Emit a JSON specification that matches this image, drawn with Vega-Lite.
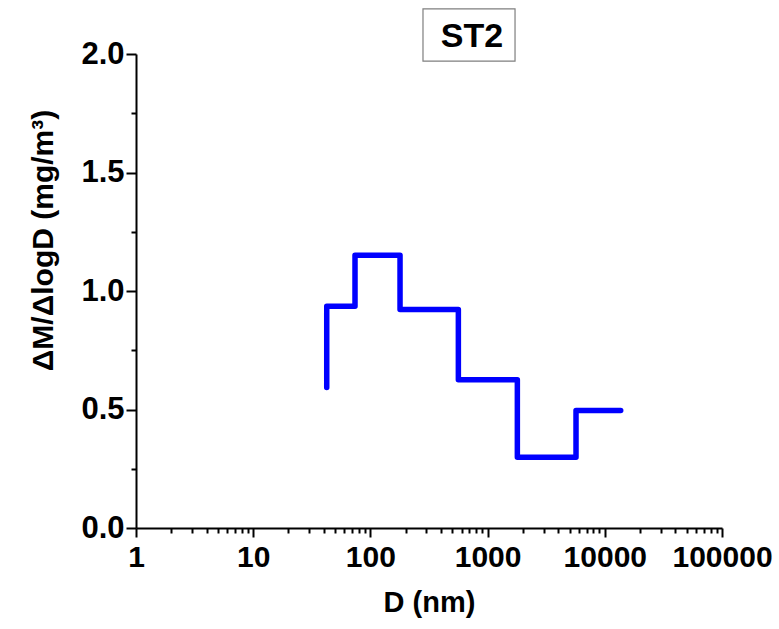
{
  "$schema": "https://vega.github.io/schema/vega-lite/v6.json",
  "width": 586,
  "height": 474,
  "autosize": "none",
  "padding": {"left": 136, "top": 54, "right": 57, "bottom": 101},
  "background": "white",
  "config": {
    "view": {"stroke": null},
    "axis": {
      "domainColor": "black", "domainWidth": 2, "tickColor": "black", "tickWidth": 2,
      "labelFont": "Liberation Sans", "labelFontWeight": "bold", "labelColor": "black",
      "titleFont": "Liberation Sans", "titleFontWeight": "bold", "titleColor": "black",
      "grid": false
    }
  },
  "datasets": {
    "dist": [
      {"i": 1, "D": 42.4, "M": 0.593},
      {"i": 2, "D": 42.4, "M": 0.936},
      {"i": 3, "D": 73.9, "M": 0.936},
      {"i": 4, "D": 73.9, "M": 1.151},
      {"i": 5, "D": 179, "M": 1.151},
      {"i": 6, "D": 179, "M": 0.922},
      {"i": 7, "D": 563, "M": 0.922},
      {"i": 8, "D": 563, "M": 0.626},
      {"i": 9, "D": 1794, "M": 0.626},
      {"i": 10, "D": 1794, "M": 0.299},
      {"i": 11, "D": 5680, "M": 0.299},
      {"i": 12, "D": 5680, "M": 0.496},
      {"i": 13, "D": 13670, "M": 0.496}
    ]
  },
  "data": {"name": "dist"},
  "layer": [
    {
      "mark": {"type": "line", "color": "#0000FF", "strokeWidth": 5.5, "strokeCap": "round", "strokeJoin": "round", "clip": false},
      "encoding": {
        "x": {"field": "D", "type": "quantitative",
          "scale": {"type": "log", "domain": [1, 100000], "nice": false},
          "axis": {"orient": "bottom", "values": [1, 10, 100, 1000, 10000, 100000], "format": "d",
            "title": "D (nm)", "labelFontSize": 30, "tickSize": 9, "labelPadding": 5,
            "titleFontSize": 29, "titlePadding": 16, "labelFlush": false, "labelOverlap": false}},
        "y": {"field": "M", "type": "quantitative",
          "scale": {"domain": [0, 2], "nice": false},
          "axis": {"orient": "left", "values": [0, 0.5, 1, 1.5, 2], "format": ".1f",
            "title": "ΔM/ΔlogD (mg/m³)", "labelFontSize": 31, "tickSize": 10, "labelPadding": 2,
            "titleFontSize": 30, "titlePadding": 22, "titleY": 186, "labelFlush": false}},
        "order": {"field": "i", "type": "quantitative"}
      }
    },
    {
      "mark": {"type": "line", "opacity": 0},
      "encoding": {
        "x": {"field": "D", "type": "quantitative",
          "scale": {"type": "log", "domain": [1, 100000], "nice": false},
          "axis": {"orient": "bottom", "values": [2,3,4,5,6,7,8,9,20,30,40,50,60,70,80,90,200,300,400,500,600,700,800,900,2000,3000,4000,5000,6000,7000,8000,9000,20000,30000,40000,50000,60000,70000,80000,90000],
            "labels": false, "title": null, "tickSize": 5, "domain": false}},
        "y": {"field": "M", "type": "quantitative",
          "scale": {"domain": [0, 2], "nice": false},
          "axis": {"orient": "left", "values": [0.25, 0.75, 1.25, 1.75], "labels": false, "title": null, "tickSize": 5, "domain": false}},
        "order": {"field": "i", "type": "quantitative"}
      }
    },
    {
      "data": {"values": [{}]},
      "mark": {"type": "rect", "fill": "white", "stroke": "#7f7f7f", "strokeWidth": 1.2, "clip": false},
      "encoding": {
        "x": {"datum": 281, "type": "quantitative", "scale": {"type": "log", "domain": [1, 100000], "nice": false}, "axis": null},
        "x2": {"datum": 1714},
        "y": {"datum": 2.19, "type": "quantitative", "scale": {"domain": [0, 2], "nice": false}, "axis": null},
        "y2": {"datum": 1.97}
      }
    },
    {
      "data": {"values": [{"label": "ST2"}]},
      "mark": {"type": "text", "font": "Liberation Sans", "fontWeight": "bold", "fontSize": 34, "baseline": "alphabetic", "align": "center", "color": "black", "clip": false},
      "encoding": {
        "text": {"field": "label"},
        "x": {"datum": 736, "type": "quantitative", "scale": {"type": "log", "domain": [1, 100000], "nice": false}, "axis": null},
        "y": {"datum": 2.03, "type": "quantitative", "scale": {"domain": [0, 2], "nice": false}, "axis": null}
      }
    }
  ],
  "resolve": {"axis": {"x": "independent", "y": "independent"}}
}
